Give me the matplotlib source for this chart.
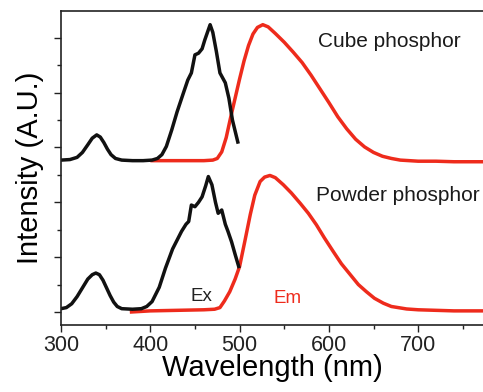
import matplotlib
matplotlib.use("Agg")
import matplotlib.pyplot as plt
from matplotlib.ticker import MultipleLocator, NullFormatter

plt.rcParams['font.family'] = ['Liberation Sans', 'DejaVu Sans']

# cube phosphor (upper, offset traces)
cube_ex_nm = [300, 310, 318, 324, 330, 335, 340, 344, 348, 352, 356, 361, 368, 380,
              392, 402, 408, 413, 418, 424, 430, 437, 442, 446, 450, 454, 458, 461,
              464, 467, 470, 474, 478, 484, 488, 492, 498]
cube_ex = [2.77, 2.78, 2.82, 2.91, 3.05, 3.17, 3.23, 3.19, 3.09, 2.97, 2.87, 2.80,
           2.77, 2.76, 2.76, 2.77, 2.80, 2.87, 3.02, 3.32, 3.65, 3.99, 4.23, 4.36,
           4.69, 4.72, 4.80, 4.96, 5.10, 5.24, 5.10, 4.75, 4.36, 4.18, 3.90, 3.50,
           3.10]

cube_em_nm = [402, 420, 440, 460, 470, 475, 480, 485, 490, 495, 500, 505, 510, 515,
              520, 526, 532, 540, 550, 560, 570, 580, 590, 600, 610, 620, 630, 640,
              650, 660, 670, 680, 690, 700, 720, 740, 760, 773]
cube_em = [2.76, 2.76, 2.76, 2.76, 2.77, 2.80, 2.92, 3.18, 3.55, 3.90, 4.25, 4.58,
           4.86, 5.07, 5.19, 5.24, 5.20, 5.08, 4.92, 4.74, 4.55, 4.32, 4.07, 3.82,
           3.56, 3.34, 3.15, 3.01, 2.91, 2.84, 2.80, 2.77, 2.76, 2.75, 2.75, 2.74,
           2.74, 2.74]

# powder phosphor (lower)
powder_ex_nm = [300, 306, 312, 318, 324, 330, 335, 339, 343, 347, 351, 355, 359, 363,
                368, 380, 390, 396, 402, 410, 417, 425, 435, 440, 443, 446, 450, 454,
                458, 462, 465, 469, 473, 476, 480, 484, 487, 491, 495, 499]
powder_ex = [0.06, 0.08, 0.15, 0.28, 0.44, 0.60, 0.68, 0.71, 0.68, 0.58, 0.44, 0.30,
             0.18, 0.10, 0.06, 0.05, 0.06, 0.10, 0.19, 0.45, 0.80, 1.15, 1.47, 1.60,
             1.65, 1.95, 1.92, 2.00, 2.10, 2.30, 2.47, 2.32, 2.00, 1.80, 1.86, 1.60,
             1.47, 1.28, 1.05, 0.83]

powder_em_nm = [379, 400, 430, 460, 472, 478, 483, 489, 495, 500, 506, 512, 517, 523,
                528, 534, 540, 549, 558, 568, 577, 586, 595, 605, 614, 624, 633, 642,
                651, 661, 670, 687, 700, 720, 740, 760, 773]
powder_em = [0.0, 0.02, 0.03, 0.04, 0.05, 0.08, 0.20, 0.37, 0.60, 0.83, 1.30, 1.78,
             2.13, 2.38, 2.46, 2.49, 2.45, 2.32, 2.17, 1.98, 1.80, 1.59, 1.35, 1.10,
             0.88, 0.68, 0.50, 0.37, 0.25, 0.16, 0.10, 0.055, 0.04, 0.03, 0.02, 0.02,
             0.02]

black = '#111111'
red = '#ee2b1c'

fig = plt.figure(figsize=(4.83, 3.92), dpi=100)
ax = fig.add_axes([0.1263, 0.171, 0.8737, 0.801])

lw = 2.5
ax.plot(cube_em_nm, cube_em, color=red, lw=lw, solid_joinstyle='round')
ax.plot(cube_ex_nm, cube_ex, color=black, lw=lw, solid_joinstyle='round')
ax.plot(powder_em_nm, powder_em, color=red, lw=lw, solid_joinstyle='round')
ax.plot(powder_ex_nm, powder_ex, color=black, lw=lw, solid_joinstyle='round')

ax.set_xlim(300, 772.6)
ax.set_ylim(-0.237, 5.49)

ax.xaxis.set_major_locator(MultipleLocator(100))
ax.xaxis.set_minor_locator(MultipleLocator(50))
ax.yaxis.set_major_locator(MultipleLocator(1))
ax.yaxis.set_minor_locator(MultipleLocator(0.5))
ax.yaxis.set_major_formatter(NullFormatter())

ax.tick_params(which='both', direction='out', width=1.0, colors='#222222')
ax.tick_params(which='major', length=5, labelsize=15.5, pad=2)
ax.tick_params(which='minor', length=3)
ax.tick_params(axis='y', which='both', labelleft=False)

for s in ['left', 'bottom', 'top']:
    ax.spines[s].set_linewidth(1.2)
    ax.spines[s].set_color('#222222')
ax.spines['right'].set_visible(False)

ax.set_xlabel('Wavelength (nm)', fontsize=21, labelpad=-1)
ax.set_ylabel('Intensity (A.U.)', fontsize=21, labelpad=7)

ax.text(588, 4.93, 'Cube phosphor', fontsize=15, va='center', color='#1a1a1a')
ax.text(585.5, 2.12, 'Powder phosphor', fontsize=15, va='center', color='#1a1a1a')
ax.text(457, 0.29, 'Ex', fontsize=13.5, ha='center', va='center', color='#222222')
ax.text(554, 0.24, 'Em', fontsize=13.5, ha='center', va='center', color=red)

fig.savefig('out.png', dpi=100)
